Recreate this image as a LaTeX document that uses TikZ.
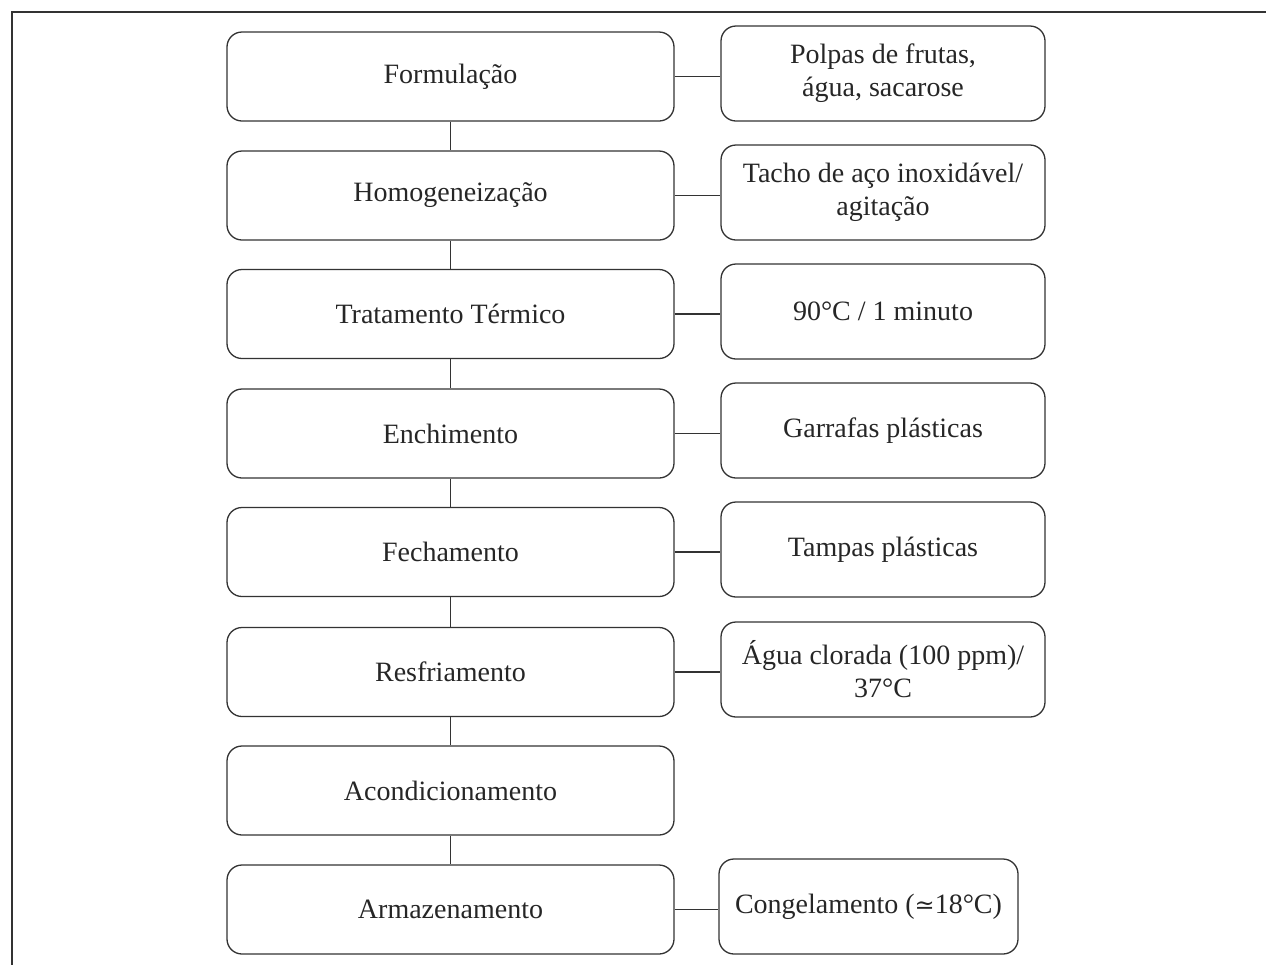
\documentclass[tikz,border=0pt]{standalone}
\usepackage{fontspec}
\setmainfont{Liberation Serif}
\newfontfamily\symfont{DejaVu Serif}
\begin{document}
\begin{tikzpicture}[x=0.5pt,y=-0.5pt,
  stepbox/.style={draw=black!80, line width=0.65pt, rounded corners=7.5pt, align=center,
    minimum width=223.5pt, minimum height=44.5pt, inner sep=0pt, font=\fontsize{14}{16.5}\selectfont, text=black!85},
  infobox/.style={stepbox, minimum width=162pt, minimum height=47.5pt},
  link/.style={draw=black!80, line width=0.65pt}]
\useasboundingbox (0,0) rectangle (1266,965);
\draw[link] (1266,12) -- (12,12) -- (12,965);
% left column
\node[stepbox] (l1) at (450.5,76.5) {Formulação};
\node[stepbox] (l2) at (450.5,195.5) {Homogeneização};
\node[stepbox] (l3) at (450.5,314) {Tratamento Térmico};
\node[stepbox] (l4) at (450.5,433.5) {Enchimento};
\node[stepbox] (l5) at (450.5,552) {Fechamento};
\node[stepbox] (l6) at (450.5,672) {Resfriamento};
\node[stepbox] (l7) at (450.5,790.5) {Acondicionamento};
\node[stepbox] (l8) at (450.5,909.5) {Armazenamento};
% right column
\node[infobox] (r1) at (883,73.5) {Polpas de frutas,\\água, sacarose};
\node[infobox] (r2) at (883,192.5) {Tacho de aço inoxidável/\\agitação};
\node[infobox] (r3) at (883,311.5) {90°C / 1 minuto};
\node[infobox] (r4) at (883,430.5) {Garrafas plásticas};
\node[infobox] (r5) at (883,549.5) {Tampas plásticas};
\node[infobox] (r6) at (883,669.5) {Água clorada (100 ppm)/\\37°C};
\node[infobox, minimum width=149.5pt] (r8) at (868.5,906.5) {Congelamento ({\symfont\fontsize{12}{14}\selectfont ≃}18°C)};
% vertical links
\foreach \a/\b in {l1/l2,l2/l3,l3/l4,l4/l5,l5/l6,l6/l7,l7/l8}
  \draw[link] (\a.south) -- (\b.north);
% horizontal links
\foreach \a/\b in {l1/r1,l2/r2,l3/r3,l4/r4,l5/r5,l6/r6,l8/r8}
  \draw[link] (\a.east) -- (\a.east -| \b.west);
\end{tikzpicture}
\end{document}
